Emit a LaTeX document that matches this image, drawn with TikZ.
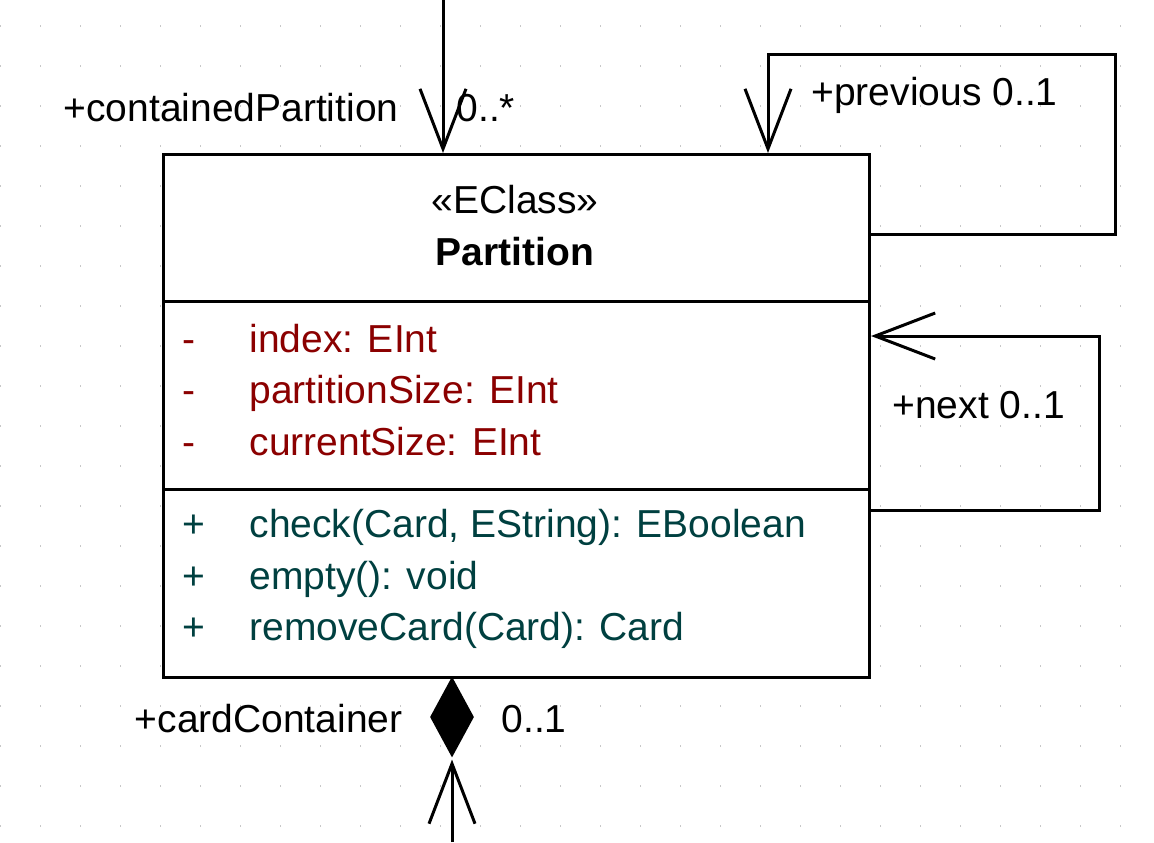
\documentclass[tikz,border=0pt]{standalone}
\usepackage{fontspec}
\setmainfont{Liberation Sans}
\usetikzlibrary{arrows.meta,shapes.geometric}
\definecolor{attrcolor}{RGB}{139,0,0}
\definecolor{opcolor}{RGB}{0,64,64}
\definecolor{gridcolor}{RGB}{200,200,200}
\newcommand{\umlsize}{\fontsize{19.5pt}{23.4pt}\selectfont}
\begin{document}
\begin{tikzpicture}[
        x=0.5pt, y=-0.5pt,
        font=\umlsize,
        compartment/.style={
            draw,
            fill=white,
            anchor=north west,
            inner sep=0pt,
            minimum width=353pt
        },
        role/.style={anchor=base west, inner sep=0pt},
        roleleft/.style={anchor=base east, inner sep=0pt},
        attr/.style={anchor=base west, inner sep=0pt, text=attrcolor},
        oper/.style={anchor=base west, inner sep=0pt, text=opcolor},
        assoc/.style={-{Straight Barb[length=30pt,width=23pt]}},
        every path/.style={line width=1.5pt}
    ]

    \useasboundingbox (0,0) rectangle (1154,842);

    \foreach \gx in {0,...,28}
        \foreach \gy in {0,...,20}
            \fill[gridcolor] (0.1+40*\gx,25.4+40*\gy) rectangle ++(1.2,1.2);

    \node[compartment, minimum height=73.5pt] (head) at (162,153) {};
    \node[compartment, minimum height=94pt] (attrs) at (162,300) {};
    \node[compartment, minimum height=94pt] (ops) at (162,488) {};

    \node[anchor=base, inner sep=0pt] (stereo) at (515,213) {«EClass»};
    \node[anchor=base, inner sep=0pt, font=\umlsize\bfseries] (name) at (515,265) {Partition};

    \node[attr] (vis1) at (181,352) {-};
    \node[attr] (attr1) at (248,352) {index: EInt};
    \node[attr] (vis2) at (181,403) {-};
    \node[attr] (attr2) at (248,403) {partitionSize: EInt};
    \node[attr] (vis3) at (181,455) {-};
    \node[attr] (attr3) at (248,455) {currentSize: EInt};

    \node[oper] (opvis1) at (181,537) {+};
    \node[oper] (op1) at (248,537) {check(Card, EString): EBoolean};
    \node[oper] (opvis2) at (181,589) {+};
    \node[oper] (op2) at (248,589) {empty(): void};
    \node[oper] (opvis3) at (181,640) {+};
    \node[oper] (op3) at (248,640) {removeCard(Card): Card};

    \coordinate (topin) at (443,0);
    \coordinate (prevcorner) at (1115,54);
    \coordinate (prevtop) at (768,54);
    \coordinate (nextcorner) at (1099,336);
    \coordinate (cardin) at (452,842);
    \node[diamond, fill=black, inner sep=0pt, minimum width=22.5pt, minimum height=41pt] (comp) at (452,717) {};

    \draw[assoc] (topin) -- (topin |- head.north);
    \draw[assoc] ([yshift=-3pt]head.east) -| (prevcorner) -- (prevtop) -- (prevtop |- head.north);
    \draw[assoc] ([yshift=-11pt]ops.north east) -| (nextcorner) -- ([yshift=-18pt]attrs.north east);
    \draw[assoc] (cardin) -- (comp.south);

    \node[roleleft] (cpname) at (400,121) {+containedPartition};
    \node[role] (cpmult) at (455,121) {0..*};
    \node[role] (prevlbl) at (810,105) {+previous 0..1};
    \node[role] (nextlbl) at (891,418) {+next 0..1};
    \node[roleleft] (ccname) at (404,732) {+cardContainer};
    \node[role] (ccmult) at (500,732) {0..1};

\end{tikzpicture}
\end{document}
